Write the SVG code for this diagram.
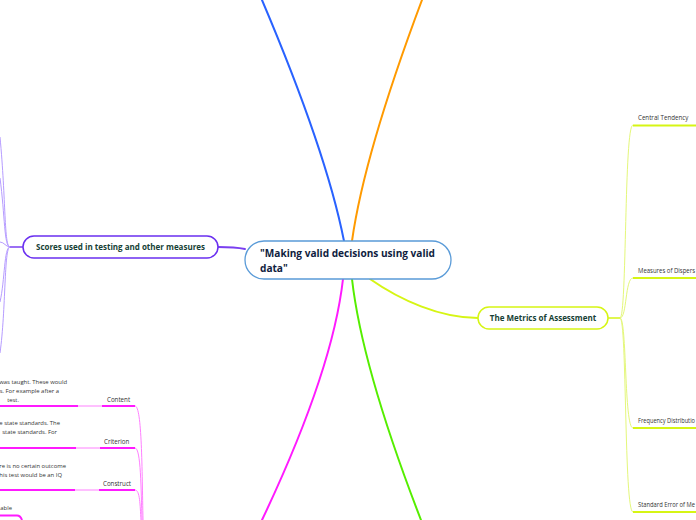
<svg xmlns="http://www.w3.org/2000/svg" width="696" height="520" viewBox="0 0 696 520">
<style>
.main{fill:none;stroke-width:2;stroke-linecap:round}
.thin{fill:none;stroke-width:1}
.ul{fill:none;stroke-width:2}
.node{fill:#ffffff;stroke-width:1.5}
.ttl{font-family:"Open Sans","DejaVu Sans",sans-serif;font-weight:bold;fill:#163f35}
.lbl{font-family:"Open Sans","DejaVu Sans",sans-serif;font-size:6.2px;fill:#333333}
.desc{font-family:"Open Sans","DejaVu Sans",sans-serif;font-size:5.9px;fill:#333333;text-anchor:end}
</style>
<g id="connectors">
  <path class="main" stroke="#2962ff" d="M344,241 C330,170 296,80 262,0"/>
  <path class="main" stroke="#ff9a00" d="M352,241 C362,170 392,80 422,0"/>
  <path class="main" stroke="#ff1aff" d="M343,279 C335,350 300,440 262,520"/>
  <path class="main" stroke="#55ee00" d="M352,279 C360,350 390,440 421,520"/>
  <path class="main" stroke="#d6f514" d="M370,279 C400,300 440,318 478,318"/>
  <path class="main" stroke="#7a3ff0" d="M245,249 C235,247 228,247 218,247"/>
  <path fill="none" stroke="#7a3ff0" stroke-width="1.5" d="M23,247 L10,247"/>
  <g class="thin" stroke="#b69cff">
    <path d="M10,247 C4,247 6,200 0,137"/>
    <path d="M10,247 C4,247 5,215 0,178"/>
    <path d="M10,247 C6,247 4,242 0,242"/>
    <path d="M10,247 C4,247 5,280 0,302"/>
    <path d="M10,247 C4,247 6,310 0,353"/>
  </g>
  <path fill="none" stroke="#d6f514" stroke-width="1.5" d="M608,318 L620,318"/>
  <g class="thin" stroke="#e4f77a">
    <path d="M620,318 C627,318 624,125 633,125"/>
    <path d="M620,318 C627,318 625,278 633,278"/>
    <path d="M620,318 C627,318 624,428 633,428"/>
    <path d="M620,318 C627,318 624,512 633,512"/>
  </g>
  <g class="ul" stroke="#d6f514">
    <path d="M633,125.5 H696"/>
    <path d="M633,278 H696"/>
    <path d="M633,428 H696"/>
    <path d="M633,512 H696"/>
  </g>
  <g class="thin" stroke="#ff80ff">
    <path d="M135,406 C142,406 142,470 143,520"/>
    <path d="M135,448 C141,448 141,490 142,520"/>
    <path d="M135,490 C140,490 140,505 141,520"/>
    <path d="M77,406 H102"/>
    <path d="M76,448 H100"/>
    <path d="M75,490 H99"/>
  </g>
  <g class="ul" stroke="#ff1aff">
    <path d="M0,406 H78"/>
    <path d="M102,406 H135"/>
    <path d="M0,448 H76"/>
    <path d="M100,448 H135"/>
    <path d="M0,490 H75"/>
    <path d="M99,490 H135"/>
    <path d="M0,515.5 H17 C20,515.5 21,517 22,520"/>
  </g>
</g>
<g id="central">
  <rect x="245" y="241" width="206" height="38" rx="19" fill="#ffffff" stroke="#5a9bd8" stroke-width="1.3"/>
  <text x="260" y="257" font-family="'Open Sans','DejaVu Sans',sans-serif" font-weight="bold" font-size="10.1" fill="#0f1d40">"Making valid decisions using valid</text>
  <text x="260" y="272" font-family="'Open Sans','DejaVu Sans',sans-serif" font-weight="bold" font-size="10.1" fill="#0f1d40">data"</text>
</g>
<g id="scores">
  <rect class="node" x="23" y="236" width="195" height="22" rx="11" stroke="#6a2ff0"/>
  <text class="ttl" x="120.5" y="250" font-size="8" text-anchor="middle">Scores used in testing and other measures</text>
</g>
<g id="metrics">
  <rect class="node" x="478" y="307" width="130" height="22" rx="11" stroke="#d6f514"/>
  <text class="ttl" x="543" y="321" font-size="8" text-anchor="middle">The Metrics of Assessment</text>
</g>
<g id="central-tendency"><text class="lbl" x="638" y="120">Central Tendency</text></g>
<g id="measures-dispersion"><text class="lbl" x="638" y="273" textLength="57" lengthAdjust="spacingAndGlyphs">Measures of Dispers</text></g>
<g id="frequency-distribution"><text class="lbl" x="638" y="423" textLength="57" lengthAdjust="spacingAndGlyphs">Frequency Distributio</text></g>
<g id="standard-error"><text class="lbl" x="638" y="507" textLength="57" lengthAdjust="spacingAndGlyphs">Standard Error of Me</text></g>
<g id="content"><text class="lbl" x="107" y="402">Content</text></g>
<g id="criterion"><text class="lbl" x="104" y="444">Criterion</text></g>
<g id="construct"><text class="lbl" x="103" y="486">Construct</text></g>
<g id="content-desc">
  <text class="desc" x="67" y="384">was taught. These would</text>
  <text class="desc" x="59" y="393">s. For example after a</text>
  <text class="desc" x="19" y="402">test.</text>
</g>
<g id="criterion-desc">
  <text class="desc" x="60" y="425">e state standards. The</text>
  <text class="desc" x="57" y="434">state standards. For</text>
</g>
<g id="construct-desc">
  <text class="desc" x="66" y="468">re is no certain outcome</text>
  <text class="desc" x="62" y="477">his test would be an IQ</text>
</g>
<g id="able-node"><text class="desc" x="12" y="510">able</text></g>
</svg>
